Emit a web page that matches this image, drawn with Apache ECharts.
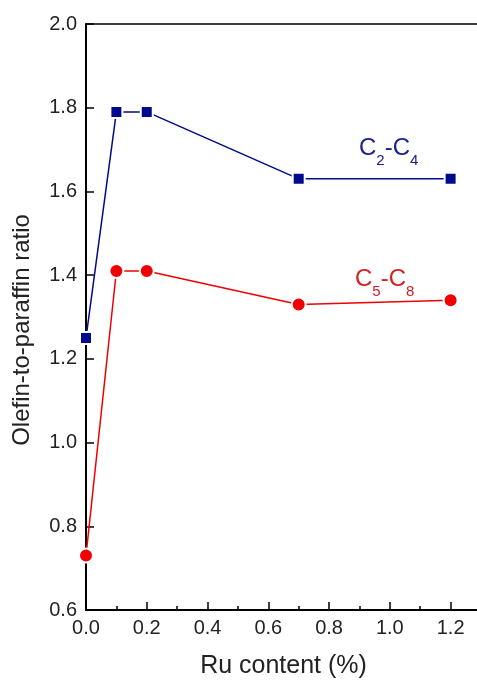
<!DOCTYPE html>
<html>
<head>
<meta charset="utf-8">
<script src="https://cdn.jsdelivr.net/npm/echarts@6/dist/echarts.min.js"></script>
<style>
  html, body { margin: 0; padding: 0; background: #fff; }
  #chart { width: 477px; height: 682px; }
</style>
</head>
<body>
<div id="chart"></div>
<script>
// Ru loading (%) and olefin-to-paraffin ratios for the two hydrocarbon fractions
const ruContent = [0, 0.1, 0.2, 0.7, 1.2];
const c2c4 = [1.25, 1.79, 1.79, 1.63, 1.63];
const c5c8 = [0.73, 1.41, 1.41, 1.33, 1.34];
const yTicks = [0.6, 0.8, 1.0, 1.2, 1.4, 1.6, 1.8, 2.0];

const pairs = (xs, ys) => xs.map((x, i) => [x, ys[i]]);
const font = 'Liberation Sans, Arial, sans-serif';
const blue = '#000a8c';
const red = '#f00000';

const chart = echarts.init(document.getElementById('chart'), null, { renderer: 'canvas' });

const subLabel = (color) => ({
  c: { fontFamily: font, fontSize: 24, fill: color, verticalAlign: 'bottom', lineHeight: 26 },
  s: { fontFamily: font, fontSize: 15, fill: color, verticalAlign: 'bottom', lineHeight: 17, padding: [0, 0, -8, 0] }
});

chart.setOption({
  animation: false,
  grid: { left: 86, top: 24, bottom: 72, width: 395, containLabel: false, outerBoundsMode: 'none' },
  xAxis: [{
    type: 'value', min: 0, max: 1.3, interval: 0.2,
    name: 'Ru content (%)', nameLocation: 'middle', nameGap: 44,
    nameTextStyle: { fontFamily: font, fontSize: 25, color: '#222' },
    axisLine: { show: true, onZero: false, lineStyle: { color: '#000', width: 2 } },
    axisTick: { show: true, inside: true, length: 8, lineStyle: { color: '#000', width: 1.5 } },
    minorTick: { show: true, splitNumber: 2, length: 4, lineStyle: { color: '#000', width: 1.5 } },
    axisLabel: {
      fontFamily: font, fontSize: 20, color: '#222', margin: 8,
      formatter: v => (Math.abs(v * 5 - Math.round(v * 5)) < 1e-6 ? v.toFixed(1) : '')
    },
    splitLine: { show: false }
  }, {
    type: 'value', position: 'top', min: 0, max: 1.3,
    axisLine: { show: true, lineStyle: { color: '#000', width: 1.5 } },
    axisTick: { show: false }, axisLabel: { show: false }, splitLine: { show: false }
  }],
  yAxis: {
    type: 'value', min: yTicks[0], max: yTicks[yTicks.length - 1], interval: 0.2,
    name: 'Olefin-to-paraffin ratio', nameLocation: 'middle', nameGap: 52, nameRotate: 90,
    nameTextStyle: { fontFamily: font, fontSize: 24, color: '#222', padding: [0, 26, 0, 0] },
    axisLine: { show: true, lineStyle: { color: '#000', width: 2 } },
    axisTick: { show: true, inside: true, length: 8, lineStyle: { color: '#000', width: 1.5 } },
    axisLabel: { fontFamily: font, fontSize: 20, color: '#222', margin: 9, formatter: v => v.toFixed(1) },
    splitLine: { show: false }
  },
  series: [{
    name: 'C2-C4', type: 'line', data: pairs(ruContent, c2c4),
    symbol: 'rect', symbolSize: 12,
    lineStyle: { color: blue, width: 1.5 },
    itemStyle: { color: blue, borderColor: '#fff', borderWidth: 2 },
    z: 3
  }, {
    name: 'C5-C8', type: 'line', data: pairs(ruContent, c5c8),
    symbol: 'circle', symbolSize: 14,
    lineStyle: { color: red, width: 1.5 },
    itemStyle: { color: red, borderColor: '#fff', borderWidth: 2 },
    z: 3
  }],
  graphic: [{
    type: 'text', left: 359, top: 136,
    style: { text: '{c|C}{s|2}{c|-C}{s|4}', rich: subLabel('#1c2090') }
  }, {
    type: 'text', left: 355, top: 267,
    style: { text: '{c|C}{s|5}{c|-C}{s|8}', rich: subLabel('#d42020') }
  }]
});
</script>
</body>
</html>
